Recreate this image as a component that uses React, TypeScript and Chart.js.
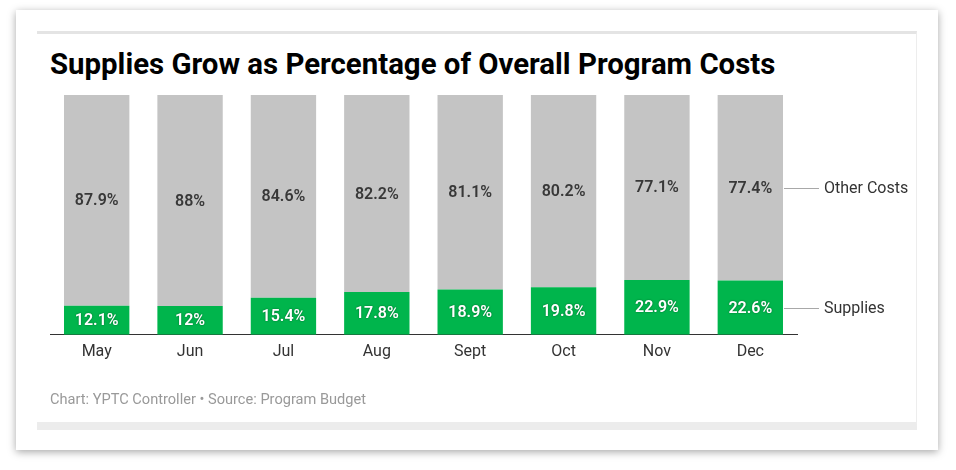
import React, { useEffect, useRef } from "react";
import { Chart, registerables } from "chart.js";

Chart.register(...registerables);

const months = ["May", "Jun", "Jul", "Aug", "Sept", "Oct", "Nov", "Dec"];
const supplies = [12.1, 12, 15.4, 17.8, 18.9, 19.8, 22.9, 22.6];
const otherCosts = [87.9, 88, 84.6, 82.2, 81.1, 80.2, 77.1, 77.4];
const seriesNames = ["Supplies", "Other Costs"];

const GREEN = "#00b54c";
const GRAY = "#c4c4c4";
const FONT = "Roboto, 'Noto Sans', sans-serif";

const labelPlugin = {
  id: "labels",
  afterDatasetsDraw(chart: any) {
    const ctx = chart.ctx;
    ctx.save();
    chart.data.datasets.forEach((ds: any, di: number) => {
      const meta = chart.getDatasetMeta(di);
      meta.data.forEach((bar: any, i: number) => {
        const { x, y, base } = bar.getProps(["x", "y", "base"], true);
        const cy = (y + base) / 2;
        ctx.font = `600 16px ${FONT}`;
        ctx.textAlign = "center";
        ctx.textBaseline = "middle";
        if (di === 0) {
          ctx.shadowColor = "rgba(0,0,0,0.45)";
          ctx.shadowBlur = 2;
          ctx.fillStyle = "#ffffff";
        } else {
          ctx.shadowColor = "transparent";
          ctx.shadowBlur = 0;
          ctx.fillStyle = "#383838";
        }
        ctx.fillText(ds.data[i] + "%", x, cy + 1);
        ctx.shadowColor = "transparent";
        ctx.shadowBlur = 0;
        if (i === ds.data.length - 1) {
          const right = x + bar.width / 2;
          ctx.strokeStyle = "#a8a8a8";
          ctx.lineWidth = 1;
          ctx.beginPath();
          ctx.moveTo(right + 1, Math.round(cy) + 0.5);
          ctx.lineTo(right + 36, Math.round(cy) + 0.5);
          ctx.stroke();
          ctx.font = `16px ${FONT}`;
          ctx.textAlign = "left";
          ctx.fillStyle = "#333333";
          ctx.fillText(ds.label, right + 41, cy + 1);
        }
      });
    });
    ctx.restore();
  },
};

export default function App() {
  const ref = useRef<HTMLCanvasElement | null>(null);
  useEffect(() => {
    if (!ref.current) return;
    const chart = new Chart(ref.current, {
      type: "bar",
      data: {
        labels: months,
        datasets: [
          { label: seriesNames[0], data: supplies, backgroundColor: GREEN, categoryPercentage: 0.7, barPercentage: 1 },
          { label: seriesNames[1], data: otherCosts, backgroundColor: GRAY, categoryPercentage: 0.7, barPercentage: 1 },
        ],
      },
      options: {
        responsive: false,
        animation: false,
        devicePixelRatio: 1,
        layout: { padding: { left: 50, top: 95, right: 159, bottom: 100 } },
        plugins: { legend: { display: false }, tooltip: { enabled: false } },
        scales: {
          x: {
            stacked: true,
            grid: { display: false, drawTicks: false },
            border: { display: true, color: "#333333", width: 1 },
            ticks: { color: "#333333", font: { family: FONT, size: 16 }, padding: 8 },
          },
          y: { stacked: true, display: false, min: 0, max: 100 },
        },
      },
      plugins: [labelPlugin],
    });
    return () => chart.destroy();
  }, []);

  return (
    <div style={{ position: "absolute", left: 0, top: 0, width: 956, height: 470, background: "#ffffff", overflow: "hidden" }}>
      <div
        style={{
          position: "absolute",
          left: 16,
          top: 10,
          width: 922,
          height: 440,
          background: "#ffffff",
          boxShadow: "0 2px 8px rgba(0,0,0,0.35)",
        }}
      />
      <div
        style={{
          position: "absolute",
          left: 37,
          top: 31,
          width: 879,
          height: 388,
          borderTop: "3px solid #e4e4e4",
          borderRight: "1px solid #ededed",
          borderBottom: "8px solid #ececec",
        }}
      />
      <div
        style={{
          position: "absolute",
          left: 50,
          top: 46,
          fontFamily: FONT,
          fontWeight: 700,
          fontSize: 29.4,
          lineHeight: "36px",
          color: "#000000",
          whiteSpace: "nowrap",
        }}
      >
        Supplies Grow as Percentage of Overall Program Costs
      </div>
      <canvas ref={ref} width={956} height={470} style={{ position: "absolute", left: 0, top: 0, width: 956, height: 470 }} />
      <div
        style={{
          position: "absolute",
          left: 50,
          top: 390,
          fontFamily: FONT,
          fontSize: 14.6,
          lineHeight: "18px",
          color: "#999999",
          whiteSpace: "nowrap",
        }}
      >
        Chart: YPTC Controller • Source: Program Budget
      </div>
    </div>
  );
}
